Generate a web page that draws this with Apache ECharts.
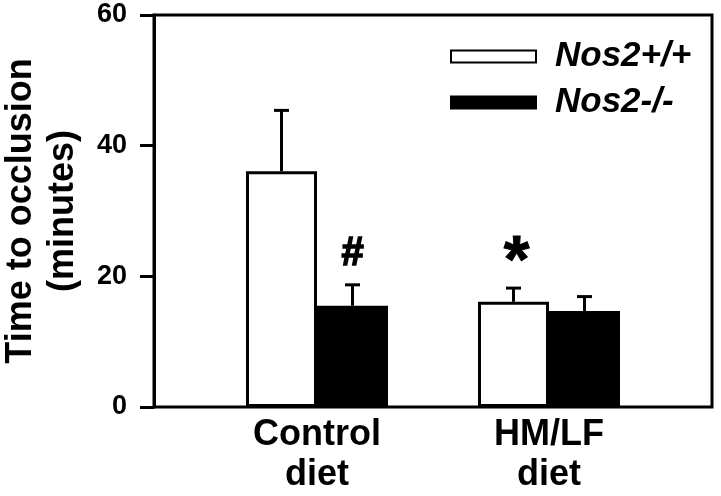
<!DOCTYPE html>
<html>
<head>
<meta charset="utf-8">
<script src="https://cdn.jsdelivr.net/npm/echarts@6/dist/echarts.min.js"></script>
<style>
  html, body { margin: 0; padding: 0; background: #fff; }
  #chart { width: 721px; height: 496px; }
</style>
</head>
<body>
<div id="chart"></div>
<script>
const categories = ['Control\ndiet', 'HM/LF\ndiet'];
const seriesNames = ['Nos2+/+', 'Nos2-/-'];
const wildType = [36.1, 16.1];
const knockout = [15.5, 14.7];
const wildTypeErr = [9.3, 2.1];
const knockoutErr = [3.2, 2.2];
const wildTypeMarks = ['', '*'];
const knockoutMarks = ['#', ''];
const yTicks = [0, 20, 40, 60];

const FONT = '"Liberation Sans", Arial, sans-serif';
const BAR_W = 71;

const chart = echarts.init(document.getElementById('chart'));

// error bar + significance mark, side -1 = left bar, +1 = right bar
const errorSeries = (vals, errs, marks, side, markFont) => ({
  type: 'custom',
  xAxisIndex: 0,
  yAxisIndex: 0,
  z: 5,
  data: vals.map((v, i) => [i, v, v + errs[i], marks[i]]),
  renderItem: (params, api) => {
    const base = api.coord([api.value(0), api.value(1)]);
    const top = api.coord([api.value(0), api.value(2)]);
    const x = base[0] + side * BAR_W / 2;
    const mark = marks[params.dataIndex];
    const children = [
      { type: 'line', shape: { x1: x, y1: base[1], x2: x, y2: top[1] },
        style: { stroke: '#000', lineWidth: 3 } },
      { type: 'line', shape: { x1: x - 7.5, y1: top[1], x2: x + 7.5, y2: top[1] },
        style: { stroke: '#000', lineWidth: 3 } }
    ];
    if (mark) {
      children.push({
        type: 'text',
        style: {
          text: mark, x: x + markFont.dx, y: top[1] - markFont.dy,
          fill: '#000', font: 'bold ' + markFont.size + 'px ' + FONT,
          align: 'center', verticalAlign: 'middle',
          stroke: '#000', lineWidth: markFont.stroke
        }
      });
    }
    return { type: 'group', children };
  }
});

chart.setOption({
  animation: false,
  backgroundColor: '#fff',
  grid: [
    { left: 201, right: 56, top: 15, bottom: 89, outerBoundsMode: 'none', containLabel: false },
    { left: 154, right: 9, top: 15, bottom: 89, outerBoundsMode: 'none', containLabel: false,
      show: true, borderColor: '#000', borderWidth: 3 }
  ],
  legend: {
    orient: 'vertical',
    left: 445,
    top: 34,
    itemWidth: 85,
    itemHeight: 12,
    itemGap: 11,
    icon: 'rect',
    data: seriesNames,
    textStyle: {
      fontFamily: FONT, fontSize: 35, fontWeight: 'bold', fontStyle: 'italic',
      color: '#000', lineHeight: 34, padding: [0, 0, 0, 14]
    }
  },
  xAxis: [
    {
      type: 'category', gridIndex: 0, data: categories,
      axisLine: { show: false }, axisTick: { show: false },
      axisLabel: {
        color: '#000', fontFamily: FONT, fontSize: 36, fontWeight: 'bold',
        lineHeight: 40, margin: 8
      }
    },
    { type: 'value', gridIndex: 1, min: 0, max: 1, show: false }
  ],
  yAxis: [
    { type: 'value', gridIndex: 0, min: 0, max: 60, show: false },
    {
      type: 'value', gridIndex: 1, min: yTicks[0], max: yTicks[yTicks.length - 1], interval: 20,
      name: 'Time to occlusion\n(minutes)',
      nameLocation: 'middle', nameGap: 70, nameRotate: 90,
      nameTextStyle: { color: '#000', fontFamily: FONT, fontSize: 36, fontWeight: 'bold', lineHeight: 42 },
      axisLine: { show: true, lineStyle: { color: '#000', width: 3 } },
      axisTick: { show: true, length: 14, lineStyle: { color: '#000', width: 3 } },
      axisLabel: { color: '#000', fontFamily: FONT, fontSize: 27, fontWeight: 'bold', margin: 27 },
      splitLine: { show: false }
    }
  ],
  series: [
    {
      name: seriesNames[0], type: 'bar', xAxisIndex: 0, yAxisIndex: 0,
      data: wildType, barWidth: BAR_W, barGap: '0%',
      itemStyle: { color: '#fff', borderColor: '#000', borderWidth: 3 }
    },
    {
      name: seriesNames[1], type: 'bar', xAxisIndex: 0, yAxisIndex: 0,
      data: knockout, barWidth: BAR_W, barGap: '0%',
      itemStyle: { color: '#000', borderColor: '#000', borderWidth: 3 }
    },
    errorSeries(wildType, wildTypeErr, wildTypeMarks, -1, { size: 66, dx: 3, dy: 24, stroke: 1 }),
    errorSeries(knockout, knockoutErr, knockoutMarks, 1, { size: 40, dx: 0, dy: 31, stroke: 1.5 })
  ]
});
</script>
</body>
</html>
